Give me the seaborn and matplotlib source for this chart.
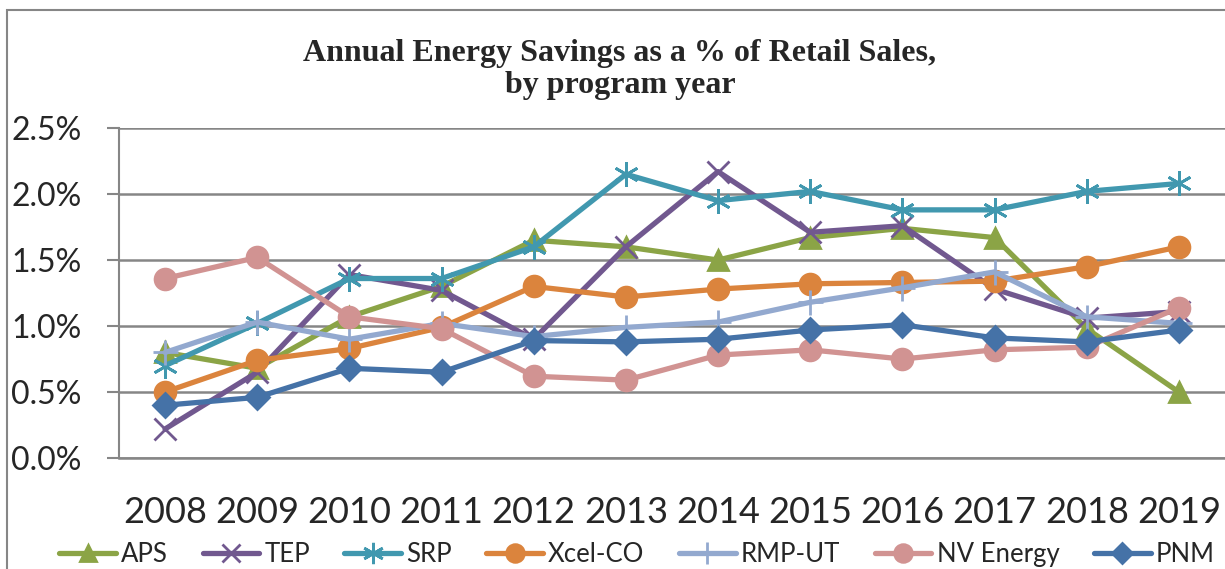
import matplotlib
matplotlib.use("Agg")
import matplotlib.pyplot as plt
from matplotlib.patches import Rectangle
import pandas as pd
import seaborn as sns

years = [2008, 2009, 2010, 2011, 2012, 2013, 2014, 2015, 2016, 2017, 2018, 2019]

aps = [0.80, 0.68, 1.07, 1.30, 1.65, 1.60, 1.50, 1.67, 1.74, 1.67, 0.98, 0.50]
tep = [0.22, 0.65, 1.39, 1.27, 0.90, 1.60, 2.17, 1.71, 1.76, 1.28, 1.06, 1.11]
srp = [0.70, 1.02, 1.36, 1.36, 1.60, 2.15, 1.95, 2.02, 1.88, 1.88, 2.02, 2.08]
xcel = [0.50, 0.74, 0.83, 0.99, 1.30, 1.22, 1.28, 1.32, 1.33, 1.34, 1.45, 1.60]
rmp = [0.80, 1.03, 0.90, 1.02, 0.92, 0.99, 1.03, 1.18, 1.29, 1.41, 1.07, 1.02]
nv = [1.36, 1.52, 1.07, 0.98, 0.62, 0.59, 0.78, 0.82, 0.75, 0.82, 0.84, 1.14]
pnm = [0.40, 0.46, 0.68, 0.65, 0.89, 0.88, 0.90, 0.97, 1.01, 0.91, 0.88, 0.97]

names = ["APS", "TEP", "SRP", "Xcel-CO", "RMP-UT", "NV Energy", "PNM"]
series = [aps, tep, srp, xcel, rmp, nv, pnm]
colors = ["#8BA446", "#71588F", "#4198AF", "#DB843D", "#93A9CF", "#D19392", "#4572A7"]
markers = ["^", "x", (6, 2, 0), "o", "+", "o", "D"]
msizes = [14, 16, 18, 15, 18, 15, 12]

rows = []
for name, vals in zip(names, series):
    for y, v in zip(years, vals):
        rows.append({"year": y, "company": name, "pct": v})
df = pd.DataFrame(rows)

sns.set_style("white")
plt.rcParams["font.family"] = ["Lato", "DejaVu Sans"]

fig = plt.figure(figsize=(12.25, 5.69), dpi=100)
ax = fig.add_axes([0.0971, 0.195, 0.9029, 0.58])

for name, c, m, ms in zip(names, colors, markers, msizes):
    sub = df[df["company"] == name]
    sns.lineplot(data=sub, x="year", y="pct", ax=ax, color=c, marker=m,
                 markersize=ms, markeredgecolor=c, markerfacecolor=c,
                 markeredgewidth=2, linewidth=3.8, label=name, legend=False)

ax.set_ylim(0, 2.5)
ax.set_xlim(2007.5, 2019.47)
ax.set_yticks([0, 0.5, 1.0, 1.5, 2.0, 2.5])
ax.set_yticklabels(["%.1f%%" % t for t in [0, 0.5, 1.0, 1.5, 2.0, 2.5]], fontsize=23)
ax.set_xticks(years)
ax.set_xticklabels([str(y) for y in years], fontsize=26)
ax.set_xticks([y - 0.5 for y in years] + [years[-1] + 0.5], minor=True)
ax.tick_params(axis="x", which="major", length=0, pad=27)
ax.tick_params(axis="x", which="minor", length=9, width=1.5, color="#868686", direction="out")
ax.tick_params(axis="y", length=9, width=1.5, color="#868686", direction="out", pad=18, left=True)
ax.grid(axis="y", color="#868686", linewidth=1.8)
ax.set_axisbelow(True)
ax.set_xlabel("")
ax.set_ylabel("")
for s in ["top", "right"]:
    ax.spines[s].set_visible(False)
ax.spines["left"].set_color("#868686")
ax.spines["left"].set_linewidth(1.5)
ax.spines["bottom"].set_color("#868686")
ax.spines["bottom"].set_linewidth(1.8)

fig.text(0.506, 0.878, "Annual Energy Savings as a % of Retail Sales,\nby program year",
         ha="center", va="center", fontsize=23, fontweight="bold",
         family="Liberation Serif", linespacing=1.15)

handles, labels = ax.get_legend_handles_labels()
fig.legend(handles, labels, loc="center", bbox_to_anchor=(0.52, 0.025), ncol=7,
           frameon=False, fontsize=18.5, handlelength=2.2, columnspacing=1.35,
           handletextpad=0.2, markerscale=0.85)

fig.patches.append(Rectangle((7 / 1225, -0.1), 1.2, 1.1 - 10 / 569, transform=fig.transFigure,
                             fill=False, edgecolor="#868686", linewidth=1.5, clip_on=False))

fig.savefig("out.png", dpi=100)
